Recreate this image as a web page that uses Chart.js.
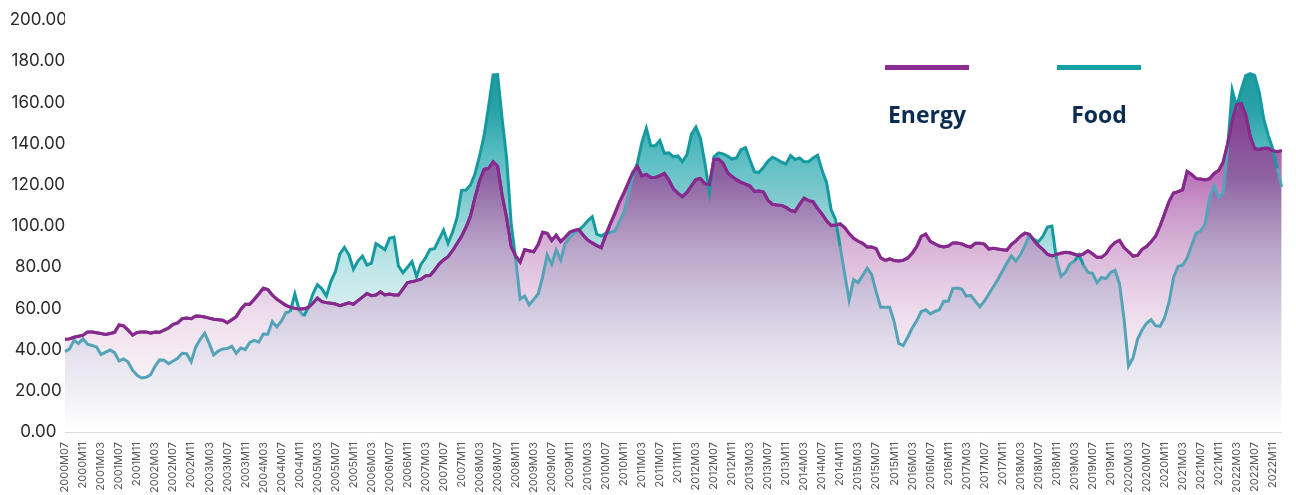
<!DOCTYPE html>
<html>
<head>
<meta charset="utf-8">
<script src="https://cdn.jsdelivr.net/npm/chart.js@4.4.1/dist/chart.umd.min.js"></script>
<style>
  html, body { margin: 0; padding: 0; background: #ffffff; }
  #wrap { position: relative; width: 1296px; height: 495px; overflow: hidden; }
  #c { position: absolute; left: 0; top: 0; }
  .lg-line { position: absolute; height: 5px; width: 84px; top: 65px; }
  .lg-text { position: absolute; width: 120px; text-align: center; top: 103px;
             font-family: "Open Sans", "Noto Sans", sans-serif; font-weight: 700;
             font-size: 23px; line-height: 23px; color: #0c2b50; }
</style>
</head>
<body>
<div id="wrap">
  <canvas id="c" width="1296" height="495"></canvas>
  <div class="lg-line" style="left:885px;background:#8b2d91;"></div>
  <div class="lg-line" style="left:1057px;background:#15a0a5;"></div>
  <div class="lg-text" style="left:867px;">Energy</div>
  <div class="lg-text" style="left:1039px;">Food</div>
</div>
<script>
// Monthly series, 2000M07 .. 2023M01
const seriesNames = ["Energy", "Food"];
const energy = [
45.0,45.2,46.0,46.5,47.0,48.5,48.5,48.2,47.8,47.3,47.8,48.3,52.0,51.5,49.5,47.0,48.3,48.6,48.6,48.0,
48.5,48.4,49.5,50.5,52.3,53.0,55.0,55.3,55.0,56.3,56.2,55.8,55.3,54.7,54.5,54.3,53.0,54.5,56.0,59.5,
62.0,62.0,64.4,67.0,69.8,69.2,66.5,64.5,63.0,61.5,60.6,60.0,59.7,59.8,60.5,62.5,65.0,63.3,62.8,62.5,
62.1,61.3,62.0,62.7,62.0,63.8,65.5,67.2,66.2,66.5,68.0,66.5,67.0,66.5,66.5,69.5,72.5,73.0,73.5,74.2,
75.8,76.0,78.5,81.5,83.5,85.1,88.0,91.5,95.0,99.5,105.0,114.0,122.0,127.5,128.0,131.2,129.0,115.0,104.0,90.0,
85.5,82.5,88.5,88.0,87.5,91.0,97.0,96.5,93.0,95.5,92.4,94.5,97.0,97.8,98.3,95.5,93.2,91.8,90.5,89.5,
95.6,101.0,106.0,111.5,116.0,121.0,126.0,129.0,124.3,125.0,123.5,123.6,124.5,125.5,122.3,118.0,116.0,114.2,116.3,119.5,
122.5,123.1,120.5,120.0,132.3,132.5,130.5,126.0,124.0,122.5,121.2,120.3,119.4,116.8,117.0,116.5,112.5,110.5,110.2,110.0,
109.1,107.5,107.0,110.5,113.5,112.3,111.8,108.5,105.8,102.5,100.2,100.5,101.0,99.3,96.3,94.0,92.6,91.6,89.8,89.8,
89.0,84.5,83.3,84.0,83.2,83.0,83.3,84.5,86.8,90.0,95.0,96.0,92.6,91.4,90.3,89.8,90.3,91.8,91.8,91.3,
90.3,89.8,91.6,91.6,91.2,88.8,89.2,88.8,88.5,88.3,91.0,92.8,95.0,96.5,96.0,93.0,90.5,88.6,86.3,85.5,
86.2,86.8,87.2,87.0,86.3,85.6,86.5,88.0,86.5,84.8,84.8,86.5,89.8,92.0,93.0,89.5,87.5,85.4,85.7,88.7,
90.0,92.4,95.0,100.0,106.0,112.0,116.0,116.7,117.5,126.5,125.0,123.0,122.8,122.4,123.0,125.5,127.0,131.0,140.0,151.0,
159.0,159.5,154.0,143.5,137.5,137.2,137.7,137.7,136.5,136.1,136.6
];
const food = [
39.0,40.3,44.5,43.0,45.3,42.6,42.0,41.3,37.6,38.8,39.8,38.5,34.5,35.5,34.0,30.0,27.5,26.2,26.6,27.8,
32.0,35.0,34.8,33.2,34.5,35.8,38.2,38.0,34.1,41.2,45.0,48.0,43.0,37.4,39.3,40.3,40.5,41.6,38.2,40.8,
40.0,43.5,44.5,43.6,47.6,47.5,53.6,51.0,53.8,58.0,58.4,67.0,59.0,56.3,60.5,67.0,71.5,69.5,66.0,73.0,
77.8,86.5,89.6,86.0,79.0,83.0,85.4,81.0,82.0,91.4,90.0,88.5,94.0,94.6,80.5,77.3,80.0,82.7,75.5,81.5,
84.5,88.7,89.0,93.5,98.0,91.6,97.0,104.0,117.3,117.5,120.0,125.5,134.0,144.0,158.0,173.3,173.5,152.0,133.0,101.3,
84.0,64.5,66.0,61.7,64.3,67.0,75.4,86.0,81.5,88.5,83.5,91.5,94.5,96.5,98.0,100.0,102.5,104.5,96.0,95.1,
96.5,97.0,97.5,102.0,106.5,115.0,124.5,130.4,140.5,147.5,139.0,139.0,141.5,135.3,135.5,133.6,134.0,131.2,134.5,144.5,
148.0,142.6,130.5,116.5,133.6,135.5,135.0,134.0,132.5,133.0,137.0,138.0,132.0,126.3,126.0,128.5,131.5,133.4,132.3,131.0,
130.1,134.2,132.3,133.0,131.2,131.2,133.0,134.3,127.0,121.0,108.0,103.0,90.0,77.0,64.0,74.0,72.5,76.0,79.5,76.5,
68.0,60.5,60.5,60.5,53.5,43.0,42.0,46.0,50.5,54.0,58.5,59.3,57.3,58.5,59.3,63.5,63.5,69.6,69.9,69.4,
66.0,66.3,63.5,60.8,63.5,67.0,70.5,74.0,78.0,82.0,85.5,83.0,86.0,90.5,95.5,93.5,92.3,95.0,99.5,100.0,
84.0,75.5,77.5,81.5,83.0,86.0,81.0,77.5,77.0,72.5,75.0,74.5,77.5,78.5,72.0,55.0,32.0,36.0,45.0,49.5,
52.8,54.5,51.6,51.3,55.5,63.0,75.0,80.5,81.0,84.5,90.5,96.5,97.5,101.0,114.0,119.5,114.0,116.0,138.0,166.0,
158.0,166.0,173.0,174.0,173.0,165.0,152.0,144.0,137.5,128.0,119.0
];
const startYear = 2000, startMonth = 7;
const labels = energy.map((_, i) => {
  const m = startMonth - 1 + i;
  const y = startYear + Math.floor(m / 12);
  const mm = (m % 12) + 1;
  return y + "M" + (mm < 10 ? "0" + mm : "" + mm);
});
const yTicks = [0, 20, 40, 60, 80, 100, 120, 140, 160, 180, 200];

// plot area (chart-area) vertical extent, used for the colour gradients
const AREA_TOP = 20, AREA_BOTTOM = 432;
const canvas = document.getElementById("c");
const gctx = canvas.getContext("2d");
function vgrad(stops) {
  const g = gctx.createLinearGradient(0, AREA_TOP, 0, AREA_BOTTOM);
  stops.forEach(s => g.addColorStop(s[0], s[1]));
  return g;
}
const baseGrad = vgrad([
  [0.00, "rgb(122,38,132)"],
  [0.22, "rgb(134,62,146)"],
  [0.38, "rgb(142,98,162)"],
  [0.44, "rgb(157,122,176)"],
  [0.56, "rgb(186,166,201)"],
  [0.68, "rgb(207,197,221)"],
  [0.76, "rgb(221,216,232)"],
  [0.82, "rgb(230,227,238)"],
  [0.92, "rgb(243,242,246)"],
  [0.98, "rgb(253,253,254)"],
  [1.00, "rgb(255,255,255)"]
]);
const tealGrad = vgrad([
  [0.00, "rgb(22,150,155)"],
  [0.13, "rgb(30,155,160)"],
  [0.22, "rgb(42,162,167)"],
  [0.32, "rgb(85,188,193)"],
  [0.37, "rgb(105,195,200)"],
  [0.43, "rgb(126,202,206)"],
  [0.58, "rgb(185,228,230)"],
  [0.66, "rgb(205,235,237)"],
  [0.73, "rgb(220,240,241)"],
  [0.90, "rgb(242,249,249)"],
  [1.00, "rgb(255,255,255)"]
]);
const pinkGrad = vgrad([
  [0.00, "rgb(150,50,150)"],
  [0.35, "rgb(182,104,182)"],
  [0.46, "rgb(201,152,201)"],
  [0.55, "rgb(216,180,215)"],
  [0.63, "rgb(228,201,226)"],
  [0.72, "rgb(238,222,236)"],
  [0.80, "rgb(244,233,242)"],
  [0.90, "rgb(249,244,248)"],
  [1.00, "rgb(255,255,255)"]
]);

new Chart(canvas, {
  type: "line",
  data: {
    labels: labels,
    datasets: [
      {
        label: seriesNames[0],
        data: energy,
        order: 1,
        borderColor: "#862a8e",
        borderWidth: 3,
        pointRadius: 0,
        tension: 0,
        fill: "origin",
        backgroundColor: baseGrad
      },
      {
        label: seriesNames[1],
        data: food,
        order: 0,
        borderColor: "#169aa0",
        borderWidth: 3,
        pointRadius: 0,
        tension: 0,
        fill: { target: 0, above: tealGrad, below: pinkGrad },
        backgroundColor: tealGrad,
        segment: {
          borderColor: (c) => (c.p0.parsed.y < energy[c.p0DataIndex] &&
                               c.p1.parsed.y < energy[c.p1DataIndex]) ? "#55a3b6" : undefined
        }
      },
      {
        // energy line redrawn on top of the food line
        label: seriesNames[0] + " line",
        data: energy,
        order: -1,
        borderColor: "#862a8e",
        borderWidth: 3,
        pointRadius: 0,
        tension: 0,
        fill: false
      }
    ]
  },
  options: {
    responsive: false,
    animation: false,
    devicePixelRatio: 1,
    layout: { padding: { left: 0, right: 9, top: 20, bottom: 0 } },
    plugins: {
      legend: { display: false },
      tooltip: { enabled: false },
      filler: { drawTime: "beforeDatasetsDraw" }
    },
    scales: {
      x: {
        type: "category",
        offset: false,
        grid: { display: false, drawTicks: false },
        border: { display: true, color: "#dcdcdc", width: 1 },
        afterFit: (s) => { s.height = 63; },
        ticks: {
          autoSkip: false,
          maxRotation: 90,
          minRotation: 90,
          padding: 10,
          color: "#555555",
          font: { family: "Inter", size: 11 },
          callback: function (v, i) { return i % 4 === 0 ? this.getLabelForValue(v) : null; }
        }
      },
      y: {
        min: 0,
        max: 200,
        grid: { display: false, drawTicks: false },
        border: { display: false },
        afterFit: (s) => { s.width = 65; },
        afterBuildTicks: (s) => { s.ticks = yTicks.map(v => ({ value: v })); },
        ticks: {
          crossAlign: "center",
          padding: -2,
          color: "#2a2a2a",
          font: { family: "Inter", size: 17 },
          callback: (v) => Number(v).toFixed(2)
        }
      }
    }
  }
});
</script>
</body>
</html>
